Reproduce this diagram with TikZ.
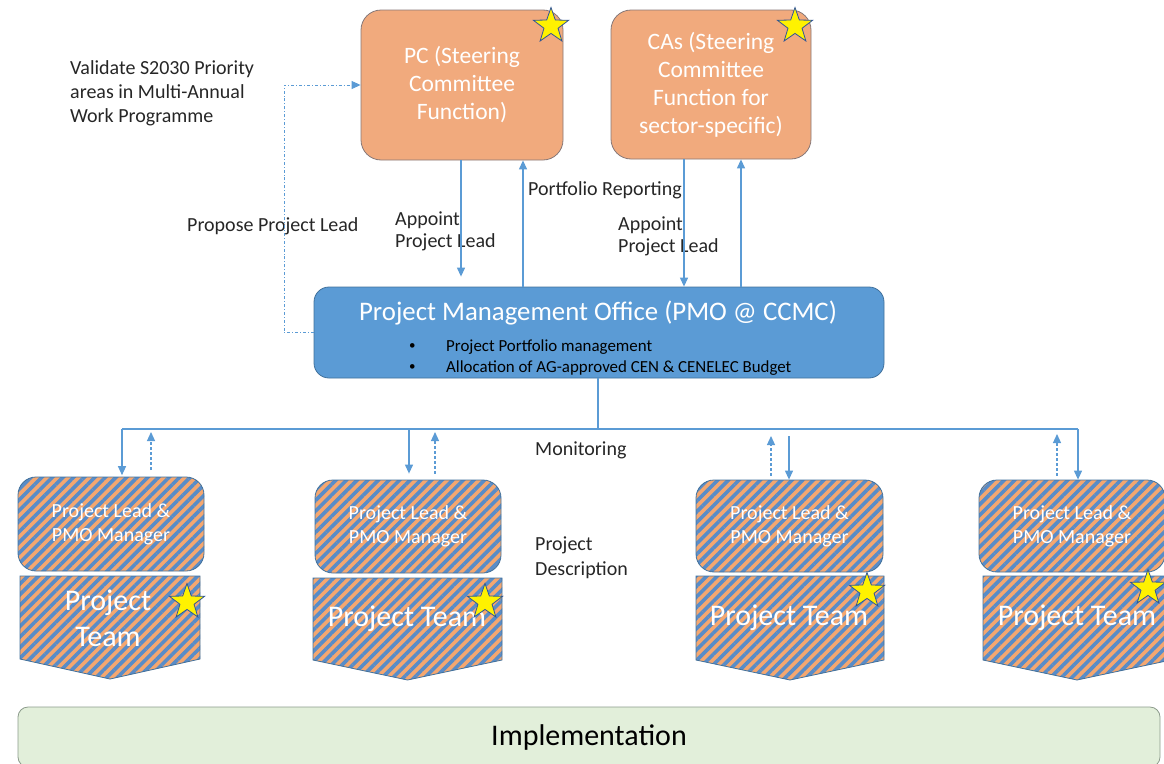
\documentclass[tikz,border=0pt]{standalone}
\usepackage{fontspec}
\setmainfont{Carlito}
\usepackage{xcolor}
\usetikzlibrary{shapes.geometric,patterns.meta,arrows.meta}

\definecolor{steerfill}{RGB}{241,170,125}
\definecolor{steerline}{RGB}{135,120,120}
\definecolor{pmofill}{RGB}{91,155,213}
\definecolor{pmoline}{RGB}{65,113,156}
\definecolor{hatchorange}{RGB}{244,167,112}
\definecolor{hatchblue}{RGB}{88,140,200}
\definecolor{implfill}{RGB}{226,239,218}
\definecolor{implline}{RGB}{140,155,140}
\definecolor{starline}{RGB}{47,85,151}
\definecolor{txt}{RGB}{38,38,38}

\begin{document}
\begin{tikzpicture}[x=1pt,y=-1pt,
  steerbox/.style={draw=steerline, fill=steerfill, thick, rounded corners=20pt, text=white, align=center, font=\fontsize{23.5}{28}\selectfont},
  pmobox/.style={draw=pmoline, fill=pmofill, thick, rounded corners=15pt},
  leadbox/.style={draw=pmoline, thick, rounded corners=18pt, preaction={fill=hatchorange}, pattern={Lines[angle=45,distance=7.5pt,line width=3.6pt]}, pattern color=hatchblue, text=white, align=center, font=\fontsize{20}{24}\selectfont},
  teambox/.style={draw=pmoline, thick, preaction={fill=hatchorange}, pattern={Lines[angle=45,distance=7.5pt,line width=3.6pt]}, pattern color=hatchblue},
  teamtext/.style={text=white, align=center, inner sep=0, font=\fontsize{30}{36}\selectfont},
  implbox/.style={draw=implline, fill=implfill, thick, rounded corners=10pt, font=\fontsize{30}{34}\selectfont, text=black},
  starmark/.style={star, star points=5, star point ratio=2.5, minimum size=37pt, inner sep=0, fill=yellow, draw=starline, thick},
  lbl/.style={anchor=west, inner sep=0, align=left, text=txt, font=\fontsize{20}{22}\selectfont},
  bullettext/.style={anchor=west, inner sep=0, text=black, font=\fontsize{16.9}{18}\selectfont},
  flow/.style={draw=pmofill, line width=1.2pt, -{Triangle[length=9pt,width=8pt]}},
  dflow/.style={flow, densely dashed},
  link/.style={draw=pmofill, line width=1.2pt},
  proposal/.style={draw=pmofill, line width=0.9pt, dash dot, -{Triangle[length=9pt,width=8pt]}}]

\useasboundingbox (0,0) rectangle (1164,763);

% steering committees
\node[steerbox, minimum width=202, minimum height=150] (PC) at (462,85) {PC (Steering\\Committee\\Function)};
\node[steerbox, minimum width=200, minimum height=149] (CA) at (711,84.5) {CAs (Steering\\Committee\\Function for\\sector-specific)};

% project management office
\node[pmobox, minimum width=570, minimum height=91] (PMO) at (599,332.5) {};
\node[text=white, font=\fontsize{26.8}{30}\selectfont] (PMOt) at (598,313) {Project Management Office (PMO @ CCMC)};
\node[bullettext, font=\fontsize{13}{18}\selectfont] (b1) at (409,347) {\textbullet};
\node[bullettext, font=\fontsize{13}{18}\selectfont] (b2) at (409,368) {\textbullet};
\node[bullettext] (B1) at (446,347) {Project Portfolio management};
\node[bullettext] (B2) at (446,368) {Allocation of AG-approved CEN \& CENELEC Budget};

% project leads
\node[leadbox, minimum width=186, minimum height=94] (L1) at (111,524) {Project Lead \&\\PMO Manager};
\node[leadbox, minimum width=186, minimum height=93] (L2) at (408,526.5) {Project Lead \&\\PMO Manager};
\node[leadbox, minimum width=187, minimum height=92] (L3) at (789.5,526) {Project Lead \&\\PMO Manager};
\node[leadbox, minimum width=186, minimum height=92] (L4) at (1072,526) {Project Lead \&\\PMO Manager};

% project teams
\draw[teambox] (20,576) -- (200,576) -- (200,659) -- (110,679) -- (20,659) -- cycle;
\draw[teambox] (313,578) -- (502,578) -- (502,660) -- (407.5,680) -- (313,660) -- cycle;
\draw[teambox] (696,576) -- (884,576) -- (884,660) -- (790,680) -- (696,660) -- cycle;
\draw[teambox] (983,576) -- (1171,576) -- (1171,660) -- (1077,680) -- (983,660) -- cycle;
\node[teamtext] (T1) at (108,618) {Project\\Team};
\node[teamtext] (T2) at (407,619) {Project Team};
\node[teamtext] (T3) at (789,618) {Project Team};
\node[teamtext] (T4) at (1077,618) {Project Team};

\node[implbox, minimum width=1142, minimum height=60] (IMP) at (589,737) {Implementation};

% stars
\node[starmark] (S1) at (551,26) {};
\node[starmark] (S2) at (795,26) {};
\node[starmark] (S3) at (187,602) {};
\node[starmark] (S4) at (485,602) {};
\node[starmark] (S5) at (867,591) {};
\node[starmark] (S6) at (1148,588) {};

% labels
\node[lbl, font=\fontsize{20}{24}\selectfont] (val) at (70,93) {Validate S2030 Priority\\areas in Multi-Annual\\Work Programme};
\node[lbl] (prop) at (187,226) {Propose Project Lead};
\node[lbl] (app1) at (395,231) {Appoint\\Project Lead};
\node[lbl] (rep) at (528,190) {Portfolio Reporting};
\node[lbl] (app2) at (618,236) {Appoint\\Project Lead};
\node[lbl] (mon) at (535,450) {Monitoring};
\node[lbl, font=\fontsize{20}{25}\selectfont] (desc) at (535,558) {Project\\Description};

% connectors
\coordinate (a1) at (461,0);
\coordinate (a2) at (523,0);
\coordinate (a3) at (684,0);
\coordinate (a4) at (741,0);
\coordinate (lp) at (284,85);
\coordinate (bus) at (598,429);
\coordinate (d1) at (122,429);
\coordinate (d2) at (409,429);
\coordinate (d3) at (789,436);
\coordinate (d4) at (1078,429);
\coordinate (u1) at (151,432);
\coordinate (u2) at (435,432);
\coordinate (u3) at (771,436);
\coordinate (u4) at (1057,434);

\draw[flow, shorten >=10pt] (PC.south -| a1) -- (PMO.north -| a1);
\draw[flow] (PMO.north -| a2) -- (PC.south -| a2);
\draw[flow] (CA.south -| a3) -- (PMO.north -| a3);
\draw[flow] (PMO.north -| a4) -- (CA.south -| a4);
\draw[proposal] (PMO.west) -| (lp) -- (PC.west);

\draw[link] (PMO.south -| bus) -- (bus);
\draw[link] (d1) -- (d4);
\draw[flow] (d1) -- (L1.north -| d1);
\draw[flow, shorten >=6pt] (d2) -- (L2.north -| d2);
\draw[flow] (d3) -- (L3.north -| d3);
\draw[flow] (d4) -- (L4.north -| d4);
\draw[dflow, shorten <=5pt] (L1.north -| u1) -- (u1);
\draw[dflow, shorten <=6pt] (L2.north -| u2) -- (u2);
\draw[dflow, shorten <=4pt] (L3.north -| u3) -- (u3);
\draw[dflow, shorten <=4pt] (L4.north -| u4) -- (u4);

\end{tikzpicture}
\end{document}
